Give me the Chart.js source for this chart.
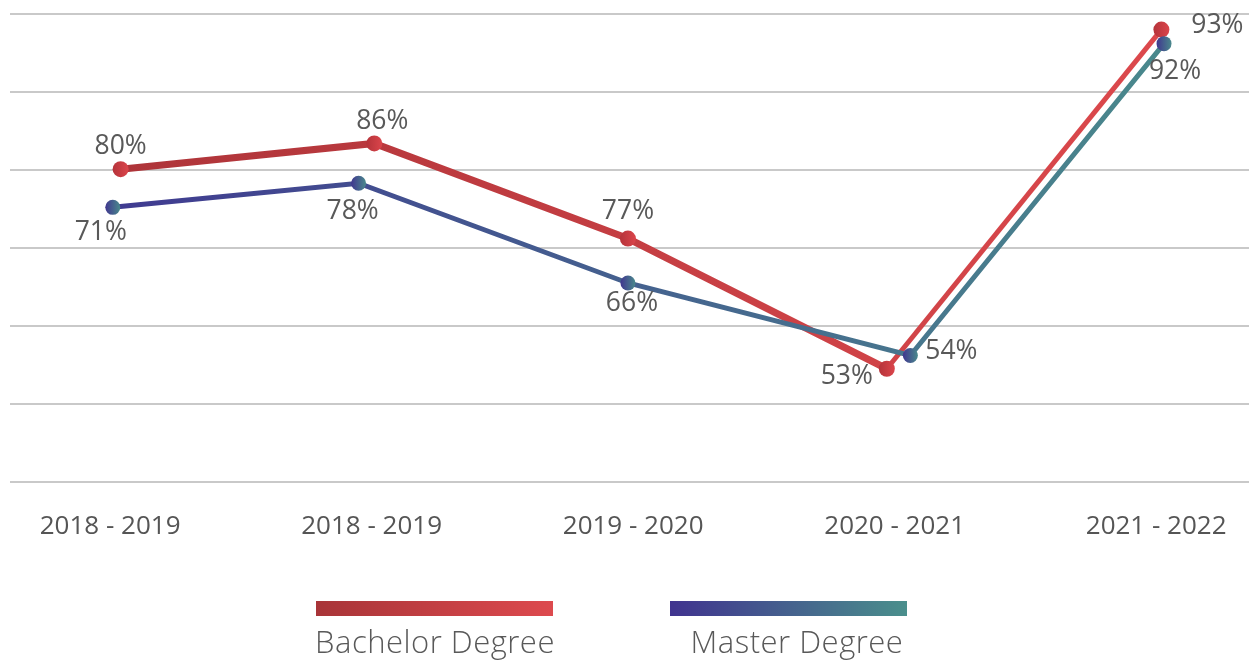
<!DOCTYPE html>
<html>
<head>
<meta charset="utf-8">
<script src="https://cdn.jsdelivr.net/npm/chart.js@4/dist/chart.umd.min.js"></script>
<style>
    html, body { margin: 0; padding: 0; background: #fff; }
    #wrap { position: relative; width: 1249px; height: 663px; }
    .legend-bar { position: absolute; top: 601px; width: 237px; height: 15px; }
    .legend-text {
        position: absolute; top: 621px; width: 260px; text-align: center;
        font-family: "Open Sans", sans-serif; font-weight: 300; font-size: 31px;
        letter-spacing: 0.5px; color: #595959; line-height: 40px; white-space: nowrap;
    }
</style>
</head>
<body>
<div id="wrap">
    <canvas id="lineChart" width="1249" height="663"></canvas>
    <div class="legend-bar" style="left:316px;background:linear-gradient(to right,#a83438,#dd4a4e);"></div>
    <div class="legend-text" style="left:305px;">Bachelor Degree</div>
    <div class="legend-bar" style="left:670px;background:linear-gradient(to right,#40338f,#4a8f8c);"></div>
    <div class="legend-text" style="left:667px;">Master Degree</div>
</div>
<script>
const categories = ["2018 - 2019", "2018 - 2019", "2019 - 2020", "2020 - 2021", "2021 - 2022"];

// x positions of the points (category index units) and y values
const bachelorX = [0.04, 1.01, 1.98, 2.97, 4.02];
const bachelorY = [80.1, 83.4, 71.2, 54.5, 98.0];
const bachelorLabels = ["80%", "86%", "77%", "53%", "93%"];

const masterX = [0.01, 0.95, 1.98, 3.06, 4.03];
const masterY = [75.2, 78.3, 65.5, 56.2, 96.2];
const masterLabels = ["71%", "78%", "66%", "54%", "92%"];

function toPoints(xs, ys) {
    return xs.map((x, i) => ({ x: x, y: ys[i] }));
}

function lineGradient(from, to) {
    return (ctx) => {
        const chart = ctx.chart;
        const area = chart.chartArea;
        if (!area) return from;
        const g = chart.ctx.createLinearGradient(area.left, 0, area.right, 0);
        g.addColorStop(0, from);
        g.addColorStop(1, to);
        return g;
    };
}

function pointGradient(from, to) {
    return (ctx) => {
        const chart = ctx.chart;
        if (!chart.chartArea || ctx.type !== "data") return from;
        const x = chart.scales.x.getPixelForValue(ctx.raw.x);
        const g = chart.ctx.createLinearGradient(x - 8, 0, x + 8, 0);
        g.addColorStop(0, from);
        g.addColorStop(1, to);
        return g;
    };
}

const pointLabels = {
    id: "pointLabels",
    afterDatasetsDraw(chart) {
        const c = chart.ctx;
        c.save();
        c.font = "26.5px 'Open Sans', sans-serif";
        c.fillStyle = "#595959";
        c.textAlign = "center";
        c.textBaseline = "middle";
        chart.data.datasets.forEach((ds, di) => {
            const meta = chart.getDatasetMeta(di);
            meta.data.forEach((pt, i) => {
                const off = ds.labelOffsets[i];
                c.fillText(ds.valueLabels[i], pt.x + off[0], pt.y + off[1]);
            });
        });
        c.restore();
    },
};

const data = {
    datasets: [
        {
            label: "Master Degree",
            data: toPoints(masterX, masterY),
            valueLabels: masterLabels,
            labelOffsets: [[-12, 25], [-6, 28], [4, 20], [41, -4], [11, 28]],
            borderColor: lineGradient("#3f3391", "#4a8f8c"),
            borderWidth: 5,
            pointRadius: 7.5,
            pointHoverRadius: 7.5,
            pointBorderWidth: 0,
            pointBackgroundColor: pointGradient("#40348f", "#4a8c8c"),
            tension: 0,
        },
        {
            label: "Bachelor Degree",
            data: toPoints(bachelorX, bachelorY),
            valueLabels: bachelorLabels,
            labelOffsets: [[0, -23], [8, -22], [0, -27], [-40, 8], [56, -4]],
            borderColor: lineGradient("#a93237", "#e04a4e"),
            borderWidth: 7,
            segment: {
                borderWidth: (ctx) => (ctx.p1DataIndex === 4 ? 5 : 7),
            },
            pointRadius: 8,
            pointHoverRadius: 8,
            pointBorderWidth: 0,
            pointBackgroundColor: pointGradient("#b5333a", "#db454b"),
            tension: 0,
        },
    ],
};

const config = {
    type: "line",
    data: data,
    options: {
        responsive: false,
        animation: false,
        layout: {
            autoPadding: false,
            padding: { top: 14, left: 10, right: 0, bottom: 92 },
        },
        plugins: {
            legend: { display: false },
            tooltip: { enabled: false },
        },
        scales: {
            x: {
                type: "linear",
                min: -0.383,
                max: 4.355,
                afterBuildTicks: (scale) => {
                    scale.ticks = categories.map((c, i) => ({ value: i }));
                },
                afterFit: (scale) => {
                    scale.paddingLeft = 0;
                    scale.paddingRight = 0;
                },
                grid: { display: false, drawTicks: false },
                border: { display: false },
                ticks: {
                    autoSkip: false,
                    maxRotation: 0,
                    padding: 29,
                    color: "#555555",
                    font: { family: "'Open Sans', sans-serif", size: 26 },
                    callback: (v) => categories[v],
                },
            },
            y: {
                min: 40,
                max: 100,
                grid: { color: "#c9c9c9", lineWidth: 2, drawTicks: false },
                border: { display: false },
                ticks: { display: false, stepSize: 10 },
            },
        },
    },
    plugins: [pointLabels],
};

new Chart(document.getElementById("lineChart"), config);
</script>
</body>
</html>
